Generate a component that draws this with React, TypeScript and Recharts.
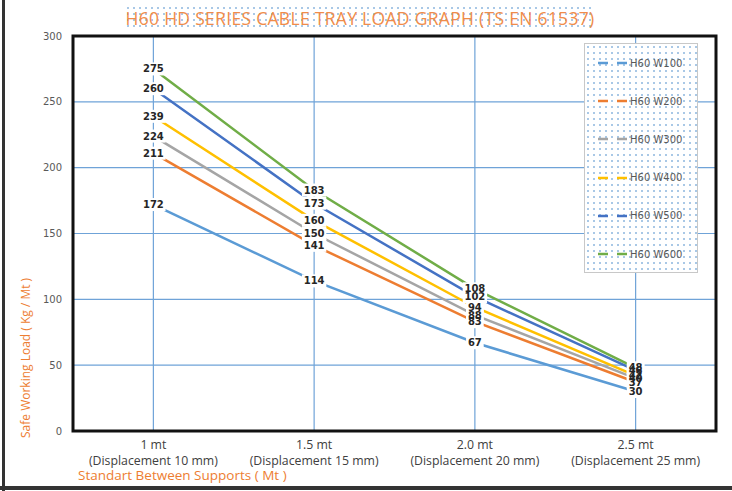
import { ComposedChart, Line, XAxis, YAxis, CartesianGrid, Legend, LabelList, ReferenceArea } from 'recharts'

const categories = ['1 mt', '1.5 mt', '2.0 mt', '2.5 mt']
const displacements = ['(Displacement 10 mm)', '(Displacement 15 mm)', '(Displacement 20 mm)', '(Displacement 25 mm)']

const w100 = [172, 114, 67, 30]
const w200 = [211, 141, 83, 37]
const w300 = [224, 150, 88, 40]
const w400 = [239, 160, 94, 42]
const w500 = [260, 173, 102, 46]
const w600 = [275, 183, 108, 48]

const seriesKeys = ['w100', 'w200', 'w300', 'w400', 'w500', 'w600']
const seriesNames = ['H60 W100', 'H60 W200', 'H60 W300', 'H60 W400', 'H60 W500', 'H60 W600']
const seriesColors = ['#5b9bd5', '#ed7d31', '#a5a5a5', '#ffc000', '#4472c4', '#70ad47']

const yTicks = [0, 50, 100, 150, 200, 250, 300]

const values = [w100, w200, w300, w400, w500, w600]
const data = categories.map((name, i) => {
  const row: Record<string, string | number> = { name, disp: displacements[i] }
  seriesKeys.forEach((k, s) => (row[k] = values[s][i]))
  return row
})

const dots = {
  backgroundColor: '#fff',
  backgroundImage: 'radial-gradient(circle, #a9c8e6 0.8px, transparent 1.1px)',
  backgroundSize: '6px 6px',
}

// white box under each value label, drawn before all texts so overlapping labels stay readable-ish
const LabelBg = (p: any) => {
  const w = String(p.value).length * 6.8 + 4
  return <rect x={p.x - w / 2} y={p.y - 6.5} width={w} height={13} fill="#fff" />
}

const LabelText = (p: any) => (
  <text x={p.x} y={p.y} dy="0.35em" textAnchor="middle" fontFamily="DejaVu Sans" fontWeight="bold" fontSize={10} fill="#262626">
    {p.value}
  </text>
)

const XTick = (p: any) => {
  const i = categories.indexOf(p.payload.value)
  return (
    <text x={p.x} y={p.y} textAnchor="middle" fontFamily="Open Sans" fontSize={12.3} fill="#404040">
      <tspan x={p.x} dy={10}>{p.payload.value}</tspan>
      <tspan x={p.x} dy={16}>{displacements[i]}</tspan>
    </text>
  )
}

const YTitle = (p: any) => {
  const vb = p.viewBox
  const x = vb.x + 30
  const y = vb.y + vb.height + 7
  return (
    <text x={x} y={y} transform={`rotate(-90 ${x} ${y})`} fontFamily="Open Sans" fontSize={12} fill="#ed7d31">
      Safe Working Load ( Kg / Mt )
    </text>
  )
}

const XTitle = (p: any) => {
  const vb = p.viewBox
  return (
    <text x={vb.x + 5} y={vb.y + 49} fontFamily="Open Sans" fontSize={13.5} fill="#ed7d31">
      Standart Between Supports ( Mt )
    </text>
  )
}

const LegendBox = () => (
  <div style={{ ...dots, width: 114, height: 230, border: '1px solid #c8c8c8', boxSizing: 'border-box' }}>
    {seriesNames.map((n, i) => (
      <div key={n} style={{ height: 38.2, display: 'flex', alignItems: 'center' }}>
        <svg width={44} height={6} style={{ flex: 'none' }}>
          <line x1={13} y1={3} x2={43} y2={3} stroke={seriesColors[i]} strokeWidth={2.5} strokeDasharray="10 9" />
        </svg>
        <span style={{ fontFamily: 'DejaVu Sans', fontSize: 10, color: '#595959', marginLeft: 1 }}>{n}</span>
      </div>
    ))}
  </div>
)

export default function App() {
  return (
    <div style={{ position: 'absolute', left: 0, top: 0, width: 732, height: 491, background: '#fff', overflow: 'hidden' }}>
      <div style={{ position: 'absolute', left: 2, top: 0, width: 3, height: 491, background: '#333' }} />
      <div style={{ position: 'absolute', left: 0, top: 486, width: 732, height: 4, background: '#333' }} />
      <div
        style={{
          ...dots,
          position: 'absolute',
          left: 125,
          top: 5,
          width: 470,
          height: 26,
          display: 'flex',
          alignItems: 'center',
          justifyContent: 'center',
          fontFamily: 'Open Sans',
          fontSize: 17.5,
          letterSpacing: 0.3,
          color: '#f08c4a',
          whiteSpace: 'nowrap',
        }}
      >
        H60 HD SERIES CABLE TRAY LOAD GRAPH (TS EN 61537)
      </div>
      <ComposedChart
        width={732}
        height={491}
        data={data}
        margin={{ top: 36, right: 16, bottom: 0, left: 0 }}
        style={{ position: 'absolute', left: 0, top: 0 }}
      >
        <XAxis
          dataKey="name"
          scale="band"
          axisLine={false}
          tickLine={false}
          height={60}
          interval={0}
          tick={<XTick />}
          label={<XTitle />}
        />
        <XAxis
          xAxisId="b"
          type="number"
          domain={[0, 4]}
          ticks={[1, 2, 3]}
          tick={false}
          axisLine={false}
          tickLine={false}
          height={0}
        />
        <YAxis
          domain={[0, 300]}
          ticks={yTicks}
          axisLine={false}
          tickLine={false}
          width={73}
          tickMargin={5}
          tick={{ fontFamily: 'DejaVu Sans', fontSize: 10, fill: '#595959' }}
          label={<YTitle />}
        />
        <CartesianGrid xAxisId="b" vertical horizontal={false} stroke="#d0d0d0" />
        <CartesianGrid stroke="#6fa3d8" strokeWidth={1.2} />
        <Legend
          layout="vertical"
          align="center"
          verticalAlign="middle"
          wrapperStyle={{ left: 584, top: 43, width: 114, height: 230 }}
          content={() => <LegendBox />}
        />
        {seriesKeys.map((k, i) => (
          <Line
            key={k}
            dataKey={k}
            name={seriesNames[i]}
            stroke={seriesColors[i]}
            strokeWidth={2.5}
            dot={false}
            activeDot={false}
            isAnimationActive={false}
          />
        ))}
        {seriesKeys.map((k) => (
          <Line key={k + '-bg'} dataKey={k} stroke="none" dot={false} activeDot={false} legendType="none" isAnimationActive={false}>
            <LabelList dataKey={k} content={<LabelBg />} />
          </Line>
        ))}
        {seriesKeys.map((k) => (
          <Line key={k + '-txt'} dataKey={k} stroke="none" dot={false} activeDot={false} legendType="none" isAnimationActive={false}>
            <LabelList dataKey={k} content={<LabelText />} />
          </Line>
        ))}
        <ReferenceArea x1={categories[0]} x2={categories[3]} y1={0} y2={300} fill="none" stroke="#111" strokeWidth={3} ifOverflow="visible" />
      </ComposedChart>
    </div>
  )
}
